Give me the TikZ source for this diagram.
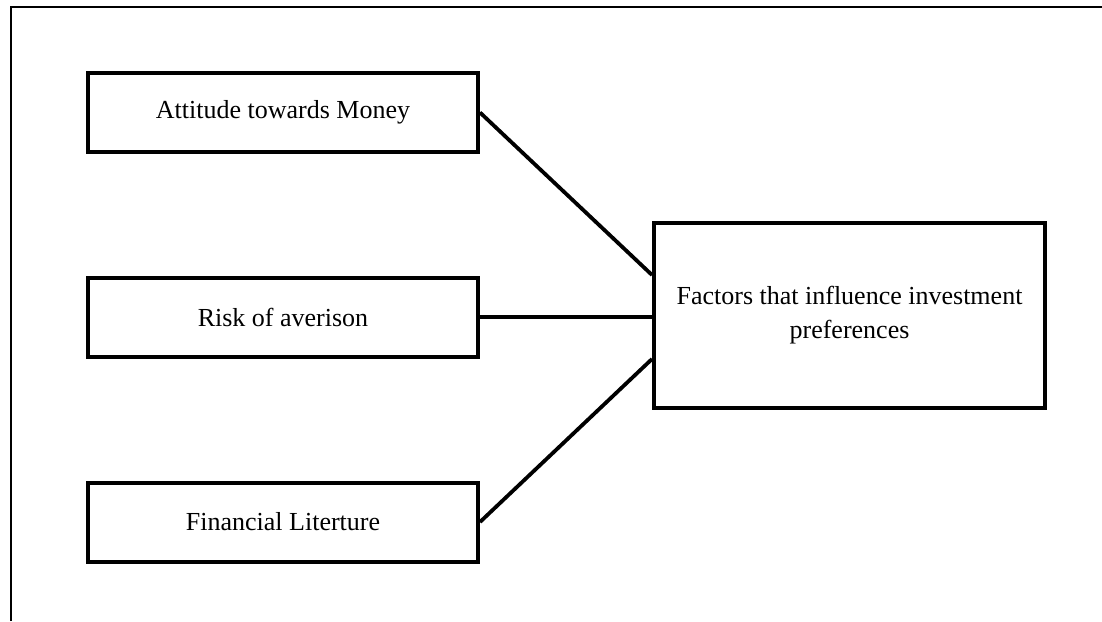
\documentclass[tikz,border=0pt]{standalone}
\usepackage{fontspec}
\setmainfont{Liberation Serif}
\usetikzlibrary{calc}
\begin{document}
\begin{tikzpicture}[x=0.5pt,y=-0.5pt,
  factorbox/.style={draw=black,line width=2pt,minimum width=195pt,minimum height=39.5pt,inner sep=0pt,font=\fontsize{13}{17}\selectfont},
  mainbox/.style={draw=black,line width=2pt,minimum width=195.5pt,minimum height=92.5pt,inner sep=0pt,align=center,font=\fontsize{13}{17}\selectfont},
  link/.style={line width=1.9pt}]
\useasboundingbox (0,0) rectangle (1102,621);
\fill[white] (0,0) rectangle (1102,621);
% outer frame (only top and left edges visible)
\coordinate (fa) at (11,621);
\coordinate (fb) at (11,7);
\coordinate (fc) at (1102,7);
\draw[line width=1pt] (fa) -- (fb) -- (fc);
% nodes
\node[factorbox] (b1) at (283,112.5) {Attitude towards Money};
\node[factorbox] (b2) at (283,317) {Risk of averison};
\node[factorbox] (b3) at (283,522) {Financial Literture};
\node[mainbox] (big) at (849.5,315.5) {Factors that influence investment\\preferences};
% attachment points on the main box
\coordinate (e1) at ([yshift=20.25pt]big.west);
\coordinate (e3) at ([yshift=-21.75pt]big.west);
% connectors
\draw[link] (b1.east) -- (e1);
\draw[link] (b2.east) -- (big.west |- b2.east);
\draw[link] (b3.east) -- (e3);
\end{tikzpicture}
\end{document}
